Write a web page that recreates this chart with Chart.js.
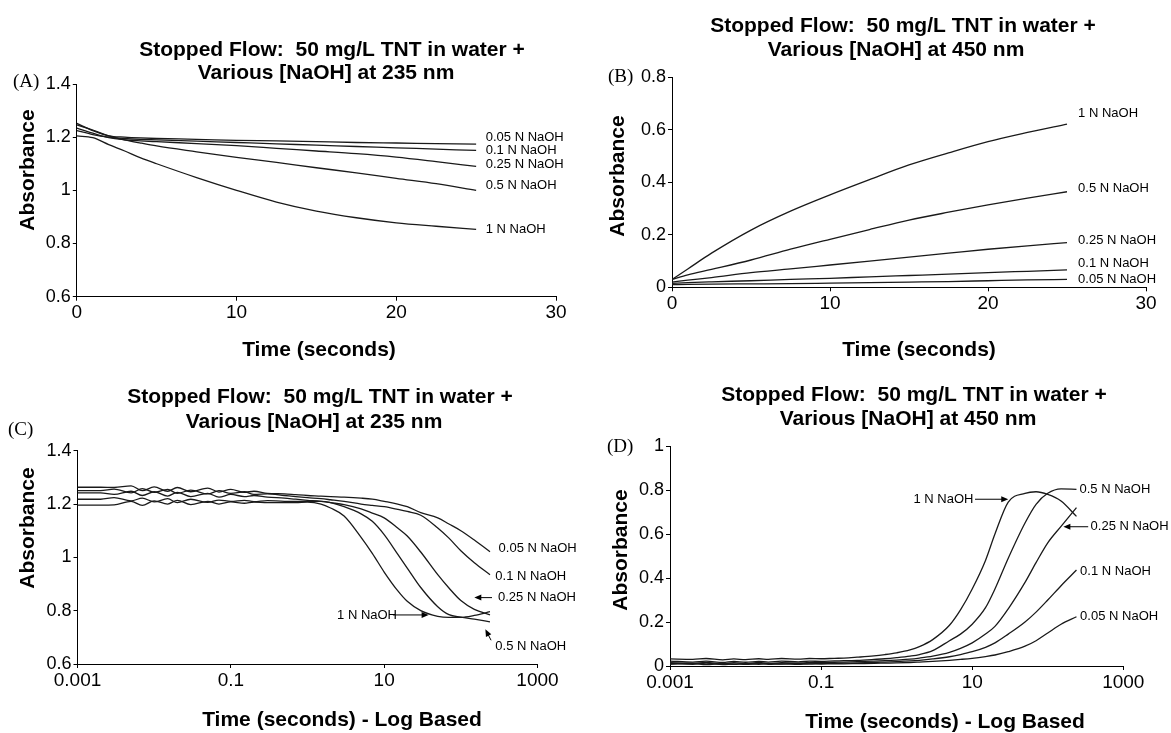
<!DOCTYPE html>
<html>
<head>
<meta charset="utf-8">
<script src="https://cdn.jsdelivr.net/npm/chart.js@4.4.1/dist/chart.umd.min.js"></script>
<style>
  html, body { margin: 0; padding: 0; background: #fff; overflow: hidden; }
  body { width: 1171px; height: 733px; position: relative; }
  .panel { position: absolute; }
</style>
</head>
<body>
<div class="panel" style="left:0;top:0;width:590px;height:365px"><canvas id="chartA"></canvas></div>
<div class="panel" style="left:590px;top:0;width:581px;height:365px"><canvas id="chartB"></canvas></div>
<div class="panel" style="left:0;top:365px;width:590px;height:368px"><canvas id="chartC"></canvas></div>
<div class="panel" style="left:590px;top:365px;width:581px;height:368px"><canvas id="chartD"></canvas></div>
<script>
// (A) 235 nm, linear time axis (seconds)
const timeA = [0, 1, 2, 3, 4, 5, 7.5, 10, 12.5, 15, 17.5, 20, 22.5, 25];
const a235_1N   = [1.205, 1.198, 1.172, 1.148, 1.122, 1.100, 1.048, 1.000, 0.956, 0.922, 0.897, 0.878, 0.865, 0.853];
const a235_05N  = [1.246, 1.227, 1.205, 1.190, 1.178, 1.167, 1.145, 1.124, 1.105, 1.085, 1.066, 1.045, 1.025, 1.000];
const a235_025N = [1.234, 1.215, 1.198, 1.190, 1.186, 1.183, 1.176, 1.168, 1.158, 1.148, 1.138, 1.125, 1.108, 1.090];
const a235_01N  = [1.225, 1.210, 1.200, 1.195, 1.192, 1.190, 1.185, 1.180, 1.175, 1.170, 1.165, 1.160, 1.155, 1.150];
const a235_005N = [1.252, 1.225, 1.205, 1.200, 1.197, 1.195, 1.192, 1.188, 1.186, 1.183, 1.180, 1.178, 1.176, 1.174];

// (B) 450 nm, linear time axis
const timeB = [0, 1, 2.5, 5, 7.5, 10, 12.5, 15, 17.5, 20, 22.5, 25];
const b450_1N   = [0.030, 0.070, 0.130, 0.218, 0.290, 0.352, 0.410, 0.466, 0.512, 0.555, 0.590, 0.622];
const b450_05N  = [0.030, 0.047, 0.068, 0.104, 0.145, 0.183, 0.220, 0.256, 0.286, 0.314, 0.340, 0.364];
const b450_025N = [0.020, 0.027, 0.037, 0.056, 0.070, 0.085, 0.100, 0.115, 0.130, 0.145, 0.158, 0.170];
const b450_01N  = [0.015, 0.018, 0.021, 0.025, 0.030, 0.034, 0.040, 0.045, 0.050, 0.056, 0.061, 0.066];
const b450_005N = [0.010, 0.011, 0.012, 0.013, 0.014, 0.016, 0.018, 0.020, 0.022, 0.025, 0.028, 0.030];

// (C) and (D), log time axis
const timeLog = [0.001, 0.002, 0.003, 0.005, 0.007, 0.01, 0.015, 0.02, 0.03, 0.05, 0.07, 0.1, 0.15, 0.2, 0.3,
                 0.5, 0.7, 1, 1.5, 2, 3, 5, 7, 10, 15, 20, 30, 50, 70, 100, 150, 240];
const c235_1N   = [1.196, 1.196, 1.197, 1.210, 1.195, 1.212, 1.200, 1.214, 1.198, 1.210, 1.200, 1.208, 1.203, 1.207, 1.205,
                   1.205, 1.205, 1.207, 1.200, 1.185, 1.155, 1.075, 1.015, 0.945, 0.875, 0.835, 0.800, 0.779, 0.775, 0.775, 0.782, 0.796];
const c235_05N  = [1.218, 1.218, 1.224, 1.212, 1.222, 1.208, 1.220, 1.205, 1.218, 1.206, 1.215, 1.210, 1.214, 1.209, 1.213,
                   1.210, 1.210, 1.210, 1.210, 1.205, 1.190, 1.163, 1.135, 1.085, 1.012, 0.960, 0.887, 0.815, 0.785, 0.776, 0.768, 0.758];
const c235_025N = [1.242, 1.242, 1.236, 1.248, 1.232, 1.246, 1.230, 1.244, 1.228, 1.240, 1.226, 1.236, 1.228, 1.232, 1.226,
                   1.222, 1.218, 1.214, 1.210, 1.205, 1.198, 1.182, 1.166, 1.148, 1.110, 1.080, 1.020, 0.935, 0.885, 0.838, 0.805, 0.784];
const c235_01N  = [1.250, 1.250, 1.256, 1.242, 1.258, 1.244, 1.255, 1.240, 1.252, 1.238, 1.250, 1.240, 1.246, 1.236, 1.238,
                   1.232, 1.228, 1.224, 1.220, 1.216, 1.210, 1.200, 1.195, 1.190, 1.180, 1.172, 1.158, 1.110, 1.072, 1.025, 0.980, 0.935];
const c235_005N = [1.263, 1.263, 1.262, 1.268, 1.250, 1.264, 1.248, 1.262, 1.246, 1.260, 1.245, 1.255, 1.244, 1.248, 1.240,
                   1.238, 1.235, 1.232, 1.230, 1.228, 1.226, 1.222, 1.218, 1.210, 1.200, 1.190, 1.168, 1.148, 1.125, 1.100, 1.065, 1.021];

const d450_1N   = [0.032, 0.030, 0.034, 0.028, 0.032, 0.029, 0.033, 0.030, 0.034, 0.031, 0.034, 0.033, 0.035, 0.036, 0.040,
                   0.046, 0.052, 0.060, 0.073, 0.088, 0.120, 0.185, 0.255, 0.350, 0.480, 0.600, 0.745, 0.785, 0.792, 0.780, 0.750, 0.680];
const d450_05N  = [0.022, 0.018, 0.022, 0.016, 0.021, 0.017, 0.021, 0.018, 0.022, 0.019, 0.022, 0.021, 0.023, 0.024, 0.026,
                   0.030, 0.033, 0.038, 0.045, 0.052, 0.070, 0.115, 0.145, 0.190, 0.265, 0.350, 0.490, 0.650, 0.735, 0.785, 0.805, 0.803];
const d450_025N = [0.015, 0.012, 0.016, 0.010, 0.015, 0.011, 0.016, 0.012, 0.015, 0.013, 0.016, 0.015, 0.017, 0.018, 0.020,
                   0.022, 0.024, 0.027, 0.031, 0.036, 0.045, 0.062, 0.080, 0.105, 0.145, 0.180, 0.260, 0.380, 0.470, 0.560, 0.635, 0.720];
const d450_01N  = [0.008, 0.012, 0.006, 0.011, 0.007, 0.012, 0.008, 0.011, 0.009, 0.012, 0.010, 0.012, 0.012, 0.013, 0.014,
                   0.016, 0.018, 0.020, 0.023, 0.026, 0.032, 0.042, 0.052, 0.065, 0.085, 0.105, 0.145, 0.200, 0.245, 0.300, 0.365, 0.436];
const d450_005N = [0.012, 0.008, 0.013, 0.006, 0.010, 0.007, 0.011, 0.008, 0.010, 0.008, 0.010, 0.009, 0.010, 0.010, 0.011,
                   0.012, 0.013, 0.014, 0.016, 0.018, 0.021, 0.026, 0.030, 0.035, 0.043, 0.050, 0.065, 0.090, 0.115, 0.150, 0.190, 0.224];

const logTicks = [0.001, 0.1, 10, 1000];
const title235 = ['Stopped Flow:  50 mg/L TNT in water +', 'Various [NaOH] at 235 nm'];
const title450 = ['Stopped Flow:  50 mg/L TNT in water +', 'Various [NaOH] at 450 nm'];

const SANS = "'Liberation Sans', Arial, Helvetica, sans-serif";
const SERIF = "'Liberation Serif', 'Times New Roman', serif";
Chart.defaults.font.family = SANS;
Chart.defaults.color = '#000';

function pts(xs, ys) {
  return xs.map((x, i) => ({ x: x, y: ys[i] }));
}

function lineSet(xs, ys) {
  return {
    data: pts(xs, ys),
    borderColor: '#1a1a1a',
    borderWidth: 1.3,
    pointRadius: 0,
    fill: false,
    cubicInterpolationMode: 'monotone'
  };
}

function arrow(ctx, x0, y0, x1, y1) {
  const a = Math.atan2(y1 - y0, x1 - x0);
  const c = Math.cos(a), s = Math.sin(a);
  ctx.lineWidth = 1;
  ctx.beginPath();
  ctx.moveTo(x0, y0);
  ctx.lineTo(x1 - 5 * c, y1 - 5 * s);
  ctx.stroke();
  ctx.beginPath();
  ctx.moveTo(x1, y1);
  ctx.lineTo(x1 - 7 * c + 3 * s, y1 - 7 * s - 3 * c);
  ctx.lineTo(x1 - 7 * c - 3 * s, y1 - 7 * s + 3 * c);
  ctx.closePath();
  ctx.fill();
}

// headline, panel letter, axis titles and the curve labels
function makeDecor(d) {
  return {
    id: 'decor',
    afterDraw(chart) {
      const ctx = chart.ctx, xs = chart.scales.x, ys = chart.scales.y;
      ctx.save();
      ctx.fillStyle = '#000';
      ctx.strokeStyle = '#000';
      ctx.textBaseline = 'middle';

      ctx.font = 'bold 21px ' + SANS;
      ctx.textAlign = 'center';
      d.title.forEach((s, i) => ctx.fillText(s, d.titleX + (i ? d.line2Dx : 0), d.titleY + i * d.titleGap));
      ctx.fillText(d.xTitle, d.xTitleX, d.xTitleY);
      ctx.save();
      ctx.translate(d.yTitleX, d.yTitleY);
      ctx.rotate(-Math.PI / 2);
      ctx.fillText('Absorbance', 0, 0);
      ctx.restore();

      ctx.font = '19px ' + SERIF;
      ctx.textAlign = 'left';
      ctx.fillText(d.letter, d.letterX, d.letterY);

      ctx.font = '13px ' + SANS;
      d.notes.forEach(n => {
        ctx.textAlign = n.align || 'left';
        ctx.fillText(n.text, xs.getPixelForValue(n.t), ys.getPixelForValue(n.v));
        if (n.arrow) {
          arrow(ctx, xs.getPixelForValue(n.arrow[0]), ys.getPixelForValue(n.arrow[1]),
                xs.getPixelForValue(n.arrow[2]), ys.getPixelForValue(n.arrow[3]));
        }
      });
      ctx.restore();
    }
  };
}

function makeChart(id, o) {
  const grid = { display: true, drawOnChartArea: false, drawTicks: true, tickLength: 4, color: '#000', lineWidth: 1 };
  const border = { display: true, color: '#000', width: 1 };
  const xScale = o.log ? {
    type: 'logarithmic', min: 0.001, max: 1000,
    afterBuildTicks: ax => { ax.ticks = logTicks.map(v => ({ value: v })); }
  } : {
    type: 'linear', min: 0, max: 30
  };
  Object.assign(xScale, {
    grid: grid, border: border,
    ticks: { color: '#000', font: { size: 19 }, padding: 1, maxRotation: 0, autoSkip: false,
             stepSize: 10, callback: v => String(v) },
    afterFit: ax => { ax.height = o.xH; ax.paddingLeft = 0; ax.paddingRight = 0; }
  });
  return new Chart(id, {
    type: 'line',
    data: { datasets: o.series.map(s => lineSet(o.time, s)) },
    options: {
      responsive: true,
      maintainAspectRatio: false,
      animation: false,
      layout: { padding: o.pad },
      plugins: { legend: { display: false }, tooltip: { enabled: false }, title: { display: false } },
      scales: {
        x: xScale,
        y: {
          type: 'linear', min: o.yMin, max: o.yMax,
          grid: grid, border: border,
          ticks: { color: '#000', font: { size: 18 }, padding: 2, stepSize: 0.2,
                   callback: v => String(+v.toFixed(2)) },
          afterFit: ax => { ax.width = o.yW; ax.paddingTop = 0; ax.paddingBottom = 0; }
        }
      }
    },
    plugins: [makeDecor(o.decor)]
  });
}

makeChart('chartA', {
  time: timeA,
  series: [a235_1N, a235_05N, a235_025N, a235_01N, a235_005N],
  yMin: 0.6, yMax: 1.4,
  pad: { left: 0, top: 84, right: 34, bottom: 0 }, yW: 76.8, xH: 68.3,
  decor: {
    title: title235, titleX: 332, titleY: 50, titleGap: 23, line2Dx: -6,
    letter: '(A)', letterX: 13, letterY: 82,
    xTitle: 'Time (seconds)', xTitleX: 319, xTitleY: 350,
    yTitleX: 28, yTitleY: 170,
    notes: [
      { text: '0.05 N NaOH', t: 25.6, v: 1.200 },
      { text: '0.1 N NaOH', t: 25.6, v: 1.152 },
      { text: '0.25 N NaOH', t: 25.6, v: 1.096 },
      { text: '0.5 N NaOH', t: 25.6, v: 1.017 },
      { text: '1 N NaOH', t: 25.6, v: 0.854 }
    ]
  }
});

makeChart('chartB', {
  time: timeB,
  series: [b450_1N, b450_05N, b450_025N, b450_01N, b450_005N],
  yMin: 0, yMax: 0.8,
  pad: { left: 0, top: 77.3, right: 25, bottom: 0 }, yW: 82, xH: 77.7,
  decor: {
    title: title450, titleX: 313, titleY: 26, titleGap: 24, line2Dx: -7,
    letter: '(B)', letterX: 18, letterY: 77,
    xTitle: 'Time (seconds)', xTitleX: 329, xTitleY: 350,
    yTitleX: 28, yTitleY: 176,
    notes: [
      { text: '1 N NaOH', t: 25.7, v: 0.663 },
      { text: '0.5 N NaOH', t: 25.7, v: 0.377 },
      { text: '0.25 N NaOH', t: 25.7, v: 0.178 },
      { text: '0.1 N NaOH', t: 25.7, v: 0.091 },
      { text: '0.05 N NaOH', t: 25.7, v: 0.030 }
    ]
  }
});

makeChart('chartC', {
  log: true,
  time: timeLog,
  series: [c235_1N, c235_05N, c235_025N, c235_01N, c235_005N],
  yMin: 0.6, yMax: 1.4,
  pad: { left: 0, top: 85.7, right: 52.5, bottom: 0 }, yW: 77.5, xH: 69,
  decor: {
    title: title235, titleX: 320, titleY: 32, titleGap: 25, line2Dx: -6,
    letter: '(C)', letterX: 8, letterY: 65,
    xTitle: 'Time (seconds) - Log Based', xTitleX: 342, xTitleY: 355,
    yTitleX: 28, yTitleY: 163,
    notes: [
      { text: '0.05 N NaOH', t: 311, v: 1.034 },
      { text: '0.1 N NaOH', t: 282, v: 0.927 },
      { text: '0.25 N NaOH', t: 305, v: 0.849, arrow: [255, 0.849, 150, 0.849] },
      { text: '0.5 N NaOH', t: 282, v: 0.667, arrow: [248, 0.689, 209, 0.730] },
      { text: '1 N NaOH', t: 14.7, v: 0.784, align: 'right', arrow: [13, 0.784, 38, 0.784] }
    ]
  }
});

makeChart('chartD', {
  log: true,
  time: timeLog,
  series: [d450_1N, d450_05N, d450_025N, d450_01N, d450_005N],
  yMin: 0, yMax: 1,
  pad: { left: 0, top: 81, right: 47.7, bottom: 0 }, yW: 80, xH: 67,
  decor: {
    title: title450, titleX: 324, titleY: 30, titleGap: 24.5, line2Dx: -6,
    letter: '(D)', letterX: 17, letterY: 82,
    xTitle: 'Time (seconds) - Log Based', xTitleX: 355, xTitleY: 357,
    yTitleX: 31, yTitleY: 185,
    notes: [
      { text: '1 N NaOH', t: 10.4, v: 0.758, align: 'right', arrow: [10.9, 0.758, 30, 0.758] },
      { text: '0.5 N NaOH', t: 263, v: 0.803 },
      { text: '0.25 N NaOH', t: 369, v: 0.633, arrow: [343, 0.633, 161, 0.633] },
      { text: '0.1 N NaOH', t: 268, v: 0.429 },
      { text: '0.05 N NaOH', t: 268, v: 0.224 }
    ]
  }
});
</script>
</body>
</html>
